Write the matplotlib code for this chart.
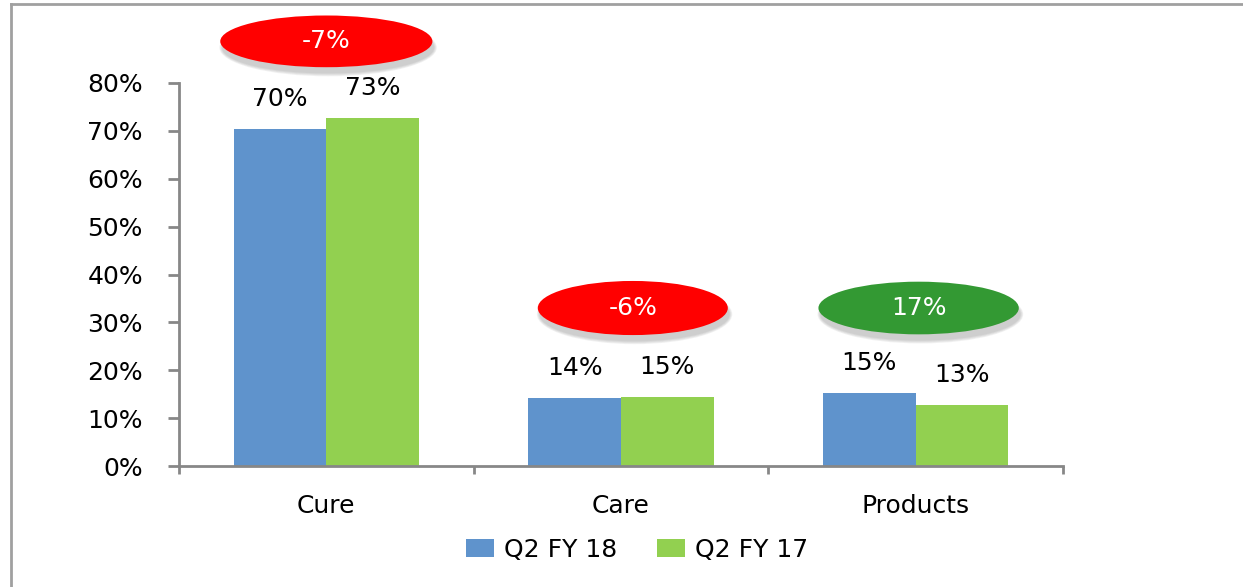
import numpy as np
import matplotlib
matplotlib.use('Agg')
import matplotlib.pyplot as plt
from matplotlib.patches import Ellipse
from matplotlib.lines import Line2D

# data
categories = ['Cure', 'Care', 'Products']
q2_fy18 = [0.703, 0.141, 0.152]
q2_fy17 = [0.726, 0.145, 0.127]
labels_fy18 = ['70%', '14%', '15%']
labels_fy17 = ['73%', '15%', '13%']
growth = ['-7%', '-6%', '17%']
growth_colors = ['#ff0000', '#ff0000', '#339933']

plt.rcParams['font.family'] = ['DejaVu Sans']
FS = 18

fig = plt.figure(figsize=(12.43, 5.87), dpi=100)
W, H = 1243, 587
ax = fig.add_axes([179 / W, 121 / H, 884 / W, 383 / H])

x = np.arange(len(categories))
w = 0.315
b1 = ax.bar(x - w / 2, q2_fy18, w, color='#5f93cc', label='Q2 FY 18')
b2 = ax.bar(x + w / 2, q2_fy17, w, color='#92d050', label='Q2 FY 17')

for bars, labs in ((b1, labels_fy18), (b2, labels_fy17)):
    for bar, lab in zip(bars, labs):
        ax.annotate(lab, (bar.get_x() + bar.get_width() / 2, bar.get_height()),
                    xytext=(0, 13), textcoords='offset points',
                    ha='center', va='bottom', fontsize=FS)

ax.set_xlim(-0.5, 2.5)
ax.set_ylim(0, 0.8)
ax.set_yticks(np.arange(0, 0.81, 0.1))
ax.set_yticklabels([f'{int(round(v * 100))}%' for v in np.arange(0, 0.81, 0.1)], fontsize=FS)

# boundary ticks as major, category names on minor ticks
ax.set_xticks([-0.5, 0.5, 1.5, 2.5])
ax.set_xticklabels([])
ax.set_xticks(x, minor=True)
ax.set_xticklabels(categories, minor=True, fontsize=FS)
ax.tick_params(axis='x', which='major', direction='out', length=6, width=2, color='#878787')
ax.tick_params(axis='x', which='minor', length=0, pad=20)
ax.tick_params(axis='y', direction='out', length=8, width=2, color='#878787', pad=18)

for s in ('top', 'right'):
    ax.spines[s].set_visible(False)
for s in ('left', 'bottom'):
    ax.spines[s].set_color('#878787')
    ax.spines[s].set_linewidth(2)

# growth bubbles
bubble_x = [0.0, 1.04, 2.01]
bubble_y = [0.887, 0.33, 0.33]
bubble_w = [0.72, 0.645, 0.68]
bubble_h = [0.108, 0.113, 0.11]
for bx, by, bw, bh, txt, col in zip(bubble_x, bubble_y, bubble_w, bubble_h, growth, growth_colors):
    for k in range(4):
        ax.add_patch(Ellipse((bx + 0.006, by - 0.013), bw + 0.006 * k, bh + 0.004 * k,
                             facecolor='#777777', alpha=0.1, edgecolor='none',
                             clip_on=False, zorder=3))
    ax.add_patch(Ellipse((bx, by), bw, bh, facecolor=col, edgecolor='none',
                         clip_on=False, zorder=4))
    ax.text(bx, by, txt, color='white', fontsize=FS, ha='center', va='center',
            zorder=5, clip_on=False)

ax.legend(loc='center', bbox_to_anchor=(637 / W, 1 - 550 / H), bbox_transform=fig.transFigure,
          ncol=2, frameon=False, fontsize=FS, handlelength=1.1, handleheight=0.75,
          handletextpad=0.4, columnspacing=1.6)

# outer frame (top and left visible)
fig.add_artist(Line2D([11 / W, 1], [1 - 4 / H, 1 - 4 / H], color='#a0a0a0', lw=2,
                      transform=fig.transFigure))
fig.add_artist(Line2D([11 / W, 11 / W], [0, 1 - 4 / H], color='#a0a0a0', lw=2,
                      transform=fig.transFigure))

fig.savefig('out.png', dpi=100)
